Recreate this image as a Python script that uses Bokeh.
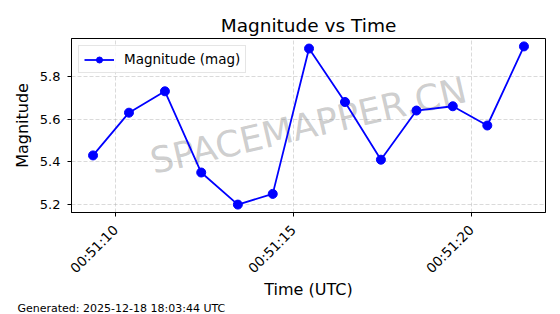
import pandas as pd
from bokeh.plotting import figure
from bokeh.models import (Range1d, FixedTicker, DatetimeTickFormatter, Label,
                          ColumnDataSource, Title)
from bokeh.embed import file_html
from bokeh.resources import INLINE
from math import pi

# ---- data ----
times = ["2025-12-18 00:51:09.37", "2025-12-18 00:51:10.38", "2025-12-18 00:51:11.39",
         "2025-12-18 00:51:12.41", "2025-12-18 00:51:13.44", "2025-12-18 00:51:14.42",
         "2025-12-18 00:51:15.44", "2025-12-18 00:51:16.45", "2025-12-18 00:51:17.46",
         "2025-12-18 00:51:18.46", "2025-12-18 00:51:19.48", "2025-12-18 00:51:20.45",
         "2025-12-18 00:51:21.48"]
magnitudes = [5.43, 5.63, 5.73, 5.35, 5.20, 5.25, 5.93, 5.68, 5.41, 5.64, 5.66, 5.57, 5.94]
x_tick_labels = ["00:51:10", "00:51:15", "00:51:20"]
y_ticks = [5.2, 5.4, 5.6, 5.8]
title_text = "Magnitude vs Time"
x_label = "Time (UTC)"
y_label = "Magnitude"
legend_text = "Magnitude (mag)"
footer_text = "Generated: 2025-12-18 18:03:44 UTC"
watermark_text = "SPACEMAPPER.CN"

EPOCH = pd.Timestamp("1970-01-01")
def to_ms(ts):
    return (pd.Timestamp(ts) - EPOCH) / pd.Timedelta(milliseconds=1)

x_ms = [to_ms(t) for t in times]
tick_ms = [to_ms("2025-12-18 " + s) for s in x_tick_labels]

xmin, xmax = min(x_ms), max(x_ms)
xpad = (xmax - xmin) * 0.05
ymin, ymax = min(magnitudes), max(magnitudes)
ypad = (ymax - ymin) * 0.05
x_start, x_end = xmin - xpad, xmax + xpad

FONT = "DejaVu Sans"

p = figure(width=560, height=314, x_axis_type="datetime",
           output_backend="svg", toolbar_location=None,
           x_range=Range1d(x_start, x_end),
           y_range=Range1d(ymin - ypad, ymax + ypad),
           min_border_left=71, min_border_right=15,
           min_border_top=38, min_border_bottom=102)
p.background_fill_color = "white"
p.border_fill_color = "white"
p.outline_line_color = "black"
p.outline_line_width = 1
p.outline_line_alpha = 1

src = ColumnDataSource(dict(x=x_ms, y=magnitudes))

# watermark under the data
wm = Label(x=(x_start + x_end) / 2, y=(ymin + ymax) / 2, text=watermark_text,
           angle=13, angle_units="deg", text_align="center", text_baseline="middle",
           text_font=FONT, text_font_size="36px", text_color="gray", text_alpha=0.4,
           level="underlay")
p.add_layout(wm)

p.line("x", "y", source=src, line_color="#0000ff", line_width=1.8,
       legend_label=legend_text)
p.scatter("x", "y", source=src, size=9, fill_color="#0000ff",
          line_color="#0000ff", legend_label=legend_text)

fmt = "%H:%M:%S"
xa = p.xaxis[0]
xa.ticker = FixedTicker(ticks=tick_ms, minor_ticks=[])
xa.formatter = DatetimeTickFormatter(milliseconds=fmt, seconds=fmt, minsec=fmt,
                                     minutes=fmt, hourmin=fmt, hours=fmt,
                                     days=fmt, months=fmt, years=fmt)
xa.major_label_orientation = pi / 4
xa.major_label_standoff = 11
xa.axis_label = x_label
xa.axis_label_standoff = -5

ya = p.yaxis[0]
ya.ticker = FixedTicker(ticks=y_ticks, minor_ticks=[])
ya.axis_label = y_label
ya.axis_label_standoff = 5
ya.major_label_standoff = 7

for ax in (xa, ya):
    ax.major_label_text_font = FONT
    ax.major_label_text_color = "black"
    ax.axis_label_text_font = FONT
    ax.axis_label_text_font_size = "16px"
    ax.axis_label_text_font_style = "normal"
    ax.axis_label_text_color = "black"
    ax.axis_line_color = "black"
    ax.major_tick_line_color = "black"
    ax.major_tick_out = 4
    ax.major_tick_in = 0
    ax.minor_tick_line_color = None
xa.major_label_text_font_size = "13.5px"
ya.major_label_text_font_size = "13px"

for g in (p.xgrid[0], p.ygrid[0]):
    g.grid_line_color = "#b0b0b0"
    g.grid_line_alpha = 0.6
    g.grid_line_dash = "4 2"
    g.grid_line_width = 0.8

p.add_layout(Title(text=title_text, align="center", standoff=5,
                   text_font=FONT, text_font_size="18.5px", text_font_style="normal",
                   text_color="black"), "above")
p.add_layout(Title(text=footer_text, align="left", offset=17 - 71, standoff=-4,
                   text_font=FONT, text_font_size="11px", text_font_style="normal",
                   text_color="black"), "below")

lg = p.legend[0]
lg.location = "top_left"
lg.margin = 7
lg.padding = 5
lg.spacing = 0
lg.glyph_width = 30
lg.glyph_height = 15
lg.label_height = 15
lg.label_standoff = 10
lg.label_text_font = FONT
lg.label_text_font_size = "13.5px"
lg.label_text_color = "black"
lg.label_text_baseline = "middle"
lg.border_line_color = "#cccccc"
lg.border_line_width = 1
lg.background_fill_alpha = 0.8

open("out.html", "w").write(file_html(p, INLINE))
